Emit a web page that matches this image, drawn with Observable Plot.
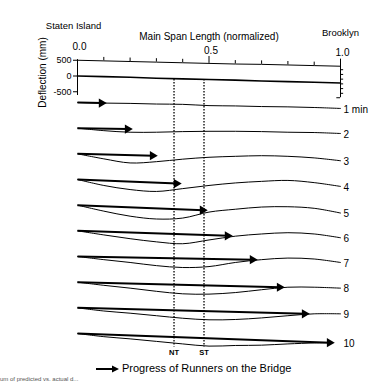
<!DOCTYPE html>
<html>
<head>
<meta charset="utf-8">
<script src="https://cdn.jsdelivr.net/npm/d3@7"></script>
<script src="https://cdn.jsdelivr.net/npm/@observablehq/plot@0.6"></script>
<style>
  html, body { margin: 0; padding: 0; background: #fff; }
  #chart svg { display: block; }
  .legend { position: relative; height: 26px; width: 383px; font-family: "Liberation Sans", Arial, sans-serif; color: #000; }
</style>
</head>
<body>
<div id="chart"></div>
<div class="legend">
  <svg width="28" height="10" style="position:absolute;left:95px;top:4px">
    <line x1="1" y1="5" x2="20" y2="5" stroke="#000" stroke-width="2"></line>
    <polygon points="17,1.5 24,5 17,8.5" fill="#000"></polygon>
  </svg>
  <span id="legendText" style="position:absolute;left:122px;top:2px;font-size:11px;white-space:nowrap"></span>
  <span id="scanText" style="position:absolute;left:0px;top:16px;font-size:6px;color:#555;white-space:nowrap"></span>
</div>
<script>
// ---------- data ----------
const spanPos = [0, 0.1, 0.2, 0.3, 0.4, 0.5, 0.6, 0.7, 0.8, 0.9, 1.0];
const topAxisLabels = [0, 0.5, 1];
const deflTicks = [500, 0, -500];
const topLine  = [500, 480, 460, 440, 420, 400, 380, 370, 350, 330, 310];
const zeroLine = [0, -20, -40, -70, -90, -110, -130, -160, -180, -200, -220];
const minutes = [1, 2, 3, 4, 5, 6, 7, 8, 9, 10];
const rowLabels = ["1 min", "2", "3", "4", "5", "6", "7", "8", "9", "10"];
// deflection (mm) at spanPos, per minute
const defl1  = [0, -20, -30, -50, -60, -100, -110, -130, -140, -160, -190];
const defl2  = [0, -80, -130, -130, -110, -100, -100, -110, -130, -140, -170];
const defl3  = [0, -160, -290, -250, -170, -110, -80, -60, -80, -130, -220];
const defl4  = [0, -190, -320, -380, -290, -190, -110, -60, -30, -100, -220];
const defl5  = [0, -190, -350, -440, -410, -220, -130, -60, -50, -100, -250];
const defl6  = [0, -130, -250, -350, -410, -290, -170, -100, -60, -100, -220];
const defl7  = [0, -100, -190, -290, -350, -320, -190, -100, -50, -80, -190];
const defl8  = [0, -100, -190, -290, -370, -380, -330, -240, -160, -160, -190];
const defl9  = [0, -100, -170, -250, -330, -380, -370, -320, -250, -190, -190];
const defl10 = [0, -100, -170, -250, -330, -400, -380, -370, -330, -300, -290];
const deflections = [defl1, defl2, defl3, defl4, defl5, defl6, defl7, defl8, defl9, defl10];
const curveEnd = [1, 1, 1, 1, 1, 1, 1, 1, 1, 0.965];
const runnerFront = [0.095, 0.194, 0.289, 0.38, 0.479, 0.574, 0.669, 0.772, 0.867, 0.962];
const runnerTipDefl = [-20, -30, -60, -130, -160, -160, -100, -160, -190, -290];
const towerPos = [0.367, 0.481];
const towerLabels = ["NT", "ST"];
const rightTicks = [200, 50, -100, -250, -400, -550];

// ---------- layout ----------
const W = 383, H = 360, mT = 56, mB = 12, mL = 77, mR = 43;
const zeroPx = 75.5, pxPerMm = 0.0315;
const rowGap = 815, rowShift = 25;
const yTop = (zeroPx - mT) / pxPerMm;
const yBot = (zeroPx - (H - mB)) / pxPerMm;
const rowOffset = i => -(rowShift + rowGap * (i + 1));

const curvePts = minutes.flatMap((m, i) =>
  spanPos.map((x, j) => ({minute: m, x: Math.min(x, curveEnd[i]), y: rowOffset(i) + deflections[i][j]})));
const arrows = minutes.map((m, i) => ({
  minute: m, x1: 0, y1: rowOffset(i), x2: runnerFront[i], y2: rowOffset(i) + runnerTipDefl[i]
}));
const labelPts = minutes.map((m, i) => ({
  text: rowLabels[i], x: 1, y: rowOffset(i) + deflections[i][10]
}));
const towers = towerPos.map((x, i) => ({x, label: towerLabels[i]}));
const towerTop = zeroLine[4] - 20;
const towerBottom = rowOffset(9) - 425;
const topLineAt = x => topLine[spanPos.indexOf(x)];
const topTicks = spanPos.slice(1);

const chart = Plot.plot({
  width: W, height: H,
  marginTop: mT, marginBottom: mB, marginLeft: mL, marginRight: mR,
  style: {fontFamily: "'Liberation Sans', Arial, sans-serif", fontSize: "10px", background: "#fff", color: "#000"},
  x: {domain: [0, 1], axis: null},
  y: {domain: [yBot, yTop]},
  marks: [
    Plot.axisY({ticks: deflTicks, tickSize: 4, tickPadding: 2, tickFormat: d => String(d),
      fontSize: 9, label: null}),
    // top axis tick labels (following the top axis line)
    Plot.text(topAxisLabels, {x: d => d, y: d => topLineAt(d), text: d3.format(".1f"), dy: -13, dx: 2, fontSize: 10}),
    // titles
    Plot.text(["Main Span Length (normalized)"], {x: () => 0.5, frameAnchor: "top", lineAnchor: "middle", dy: -20, fontSize: 10}),
    Plot.text(["Staten Island"], {x: () => -0.015, frameAnchor: "top", lineAnchor: "middle", dy: -31, fontSize: 9.5}),
    Plot.text(["Brooklyn"], {x: () => 1.0, frameAnchor: "top", lineAnchor: "middle", dy: -24, fontSize: 9.5}),
    Plot.text(["Deflection (mm)"], {y: () => 110, frameAnchor: "left", textAnchor: "middle", lineAnchor: "middle", dx: -35, rotate: -90, fontSize: 10}),
    // left axis line
    Plot.ruleX([0], {y1: 520, y2: -620, strokeWidth: 1}),
    // top axis line and ticks
    Plot.line(spanPos, {x: d => d, y: (d, i) => topLine[i], strokeWidth: 1}),
    Plot.ruleX(topTicks, {x: d => d, y1: d => topLineAt(d), y2: d => topLineAt(d) + (d === 0.5 || d === 1 ? 220 : 110), strokeWidth: 1}),
    // right axis
    Plot.ruleX([1], {y1: topLine[10] + 220, y2: -690, strokeWidth: 1}),
    Plot.ruleY(rightTicks, {x1: 1, x2: 1.012, strokeWidth: 1}),
    Plot.ruleY([-690], {x1: 0.986, x2: 1, strokeWidth: 1}),
    // zero line
    Plot.line(spanPos, {x: d => d, y: (d, i) => zeroLine[i], strokeWidth: 1.6}),
    // tower lines
    Plot.ruleX(towers, {x: "x", y1: towerTop, y2: towerBottom, strokeDasharray: "1.5,1.5", strokeWidth: 1.3}),
    Plot.text(towers, {x: "x", y: towerBottom, text: "label", dy: 6, fontSize: 7.5, fontWeight: "bold"}),
    // deflection curves
    Plot.line(curvePts, {x: "x", y: "y", z: "minute", curve: "catmull-rom", strokeWidth: 1}),
    // runner arrows
    Plot.link(arrows, {x1: "x1", y1: "y1", x2: "x2", y2: "y2", strokeWidth: 2}),
    Plot.dot(arrows, {x: "x2", y: "y2", symbol: "triangle", rotate: 90, r: 3.4, fill: "#000", stroke: "none", dx: -1}),
    // row labels
    Plot.text(labelPts, {x: "x", y: "y", text: "text", textAnchor: "start", dx: 3, dy: 1, fontSize: 10})
  ]
});
document.getElementById("chart").appendChild(chart);
document.getElementById("legendText").textContent = "Progress of Runners on the Bridge";
document.getElementById("scanText").textContent = "um of predicted vs. actual d...";
</script>
</body>
</html>
